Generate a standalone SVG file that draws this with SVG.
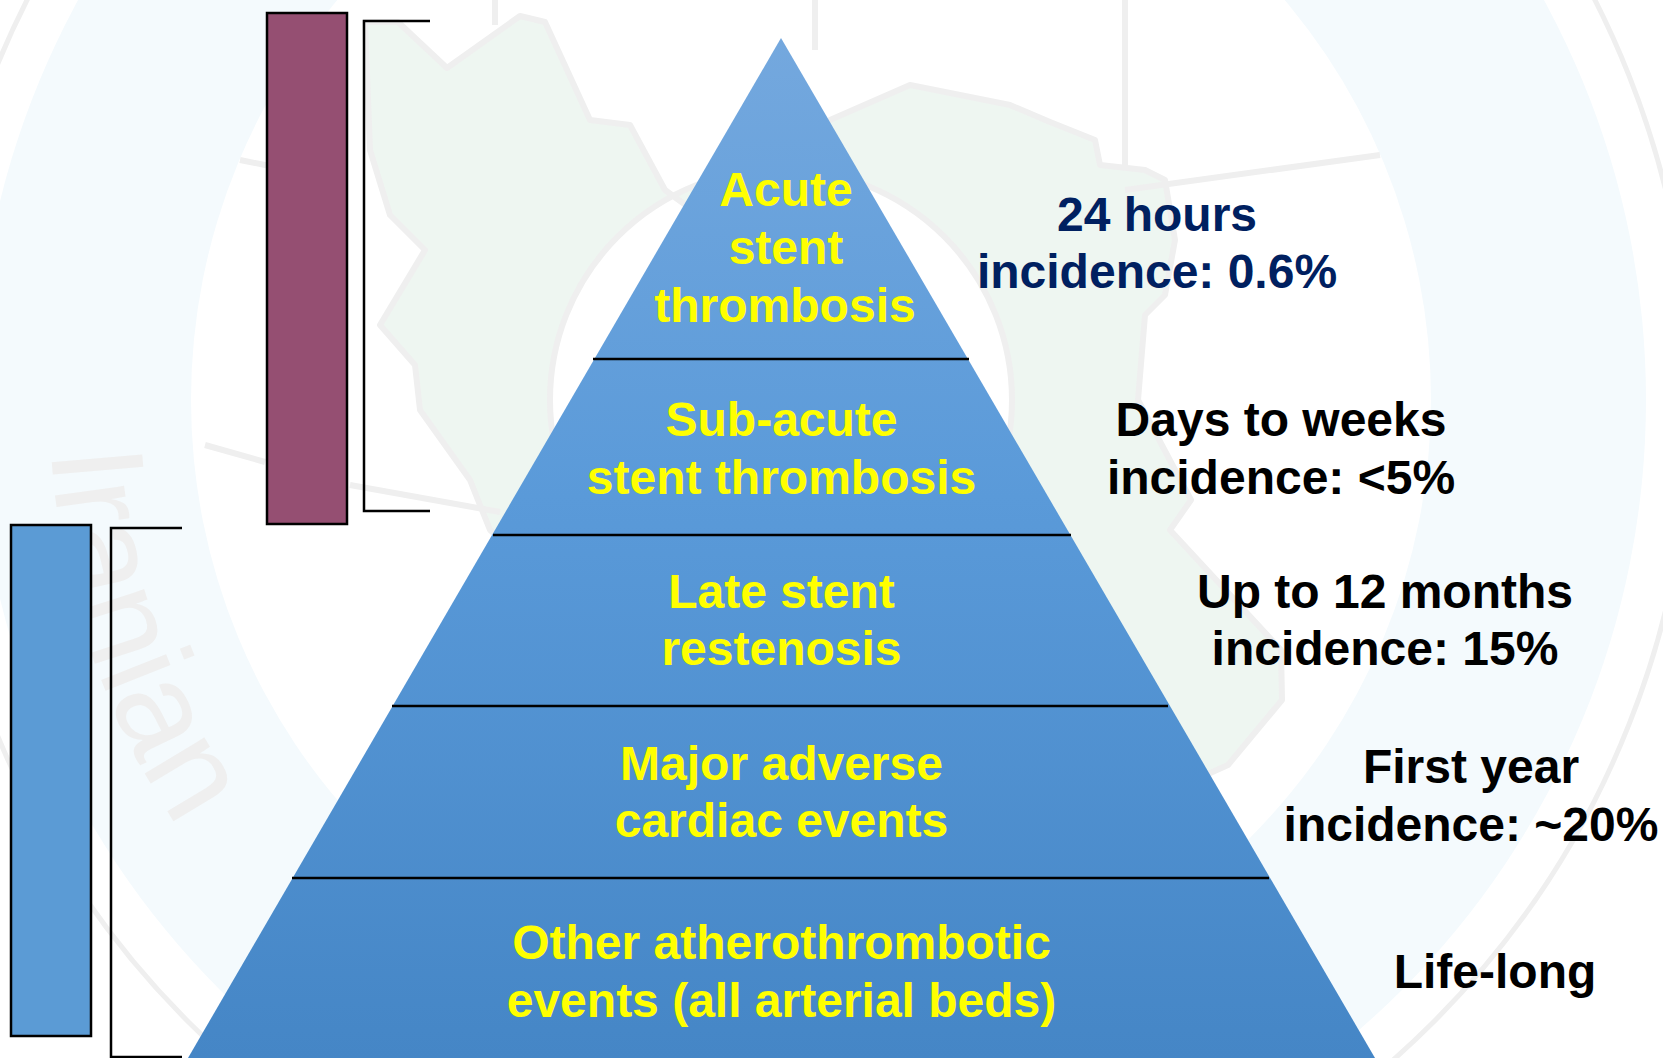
<svg xmlns="http://www.w3.org/2000/svg" width="1663" height="1058" viewBox="0 0 1663 1058">
<style>
.wm{fill:none;stroke:#efefef}
.lbl{font-family:"Liberation Sans",Arial,sans-serif;font-weight:700;font-size:48px;text-anchor:middle}
.y{fill:#ffff00}
.k{fill:#000}
.n{fill:#002060}
.bar{stroke:#000;stroke-width:2.5}
.ln{fill:none;stroke:#000;stroke-width:2.5}
</style>
<defs>
<linearGradient id="pg" gradientUnits="userSpaceOnUse" x1="0" y1="38" x2="0" y2="1058">
<stop offset="0" stop-color="#74a8de"/><stop offset="0.45" stop-color="#5a9ad9"/><stop offset="1" stop-color="#4586c6"/>
</linearGradient>
<path id="wmarc" d="M51 450A762 762 0 0 0 270 940"/>
</defs>
<g id="background">
<rect width="1663" height="1058" fill="#fff"/>
<path fill="#f4fafd" fill-rule="evenodd" d="M-24 400a835 835 0 1 0 1670 0a835 835 0 1 0 -1670 0zM191 400a620 620 0 1 0 1240 0a620 620 0 1 0 -1240 0z"/>
<circle class="wm" cx="811" cy="400" r="880" stroke-width="5"/>
<path fill="#eef6f1" stroke="#efefef" stroke-width="6" stroke-linejoin="round" fill-rule="evenodd" d="M365 22L398 22L447 68L520 16L545 22L590 120L630 125L665 190L720 230L830 120L910 85L1010 105L1050 122L1095 140L1100 165L1145 170L1165 180L1175 240L1165 295L1145 315L1138 400L1191 500L1170 530L1281 650L1282 700L1228 765L1150 800L800 800L490 530L470 480L420 410L415 365L380 325L425 250L390 215L370 150ZM550 400a231 231 0 1 0 462 0a231 231 0 1 0 -462 0z"/>
<g class="wm" stroke-width="6">
<path d="M815 0V50M1125 0V165M1125 190L1380 155M495 0V25M240 160L270 166M205 445L265 462M350 485L500 512"/>
</g>
<text font-family="'Liberation Sans',Arial,sans-serif" font-size="132" fill="#efefef"><textPath href="#wmarc">Iranian</textPath></text>
</g>
<g id="pyramid">
<polygon points="781,38 1375,1058 188,1058" fill="url(#pg)"/>
</g>
<g id="connectors">
<path class="ln" d="M593 359H969M493 535H1071M392 706H1168M292 878H1269"/>
</g>
<g id="tier-acute">
<text class="lbl y" x="786" y="206">Acute</text>
<text class="lbl y" x="786" y="264">stent</text>
<text class="lbl y" x="785" y="322">thrombosis</text>
<text class="lbl n" x="1157" y="231">24 hours</text>
<text class="lbl n" x="1157" y="288">incidence: 0.6%</text>
</g>
<g id="tier-subacute">
<text class="lbl y" x="781.500" y="436">Sub-acute</text>
<text class="lbl y" x="781.500" y="494">stent thrombosis</text>
<text class="lbl k" x="1281" y="436">Days to weeks</text>
<text class="lbl k" x="1281" y="494">incidence: &lt;5%</text>
</g>
<g id="tier-late">
<text class="lbl y" x="781.500" y="608">Late stent</text>
<text class="lbl y" x="781.500" y="665">restenosis</text>
<text class="lbl k" x="1385" y="608">Up to 12 months</text>
<text class="lbl k" x="1385" y="665">incidence: 15%</text>
</g>
<g id="tier-mace">
<text class="lbl y" x="781.500" y="780">Major adverse</text>
<text class="lbl y" x="781.500" y="837">cardiac events</text>
<text class="lbl k" x="1471" y="783">First year</text>
<text class="lbl k" x="1471" y="841">incidence: ~20%</text>
</g>
<g id="tier-other">
<text class="lbl y" x="781.500" y="959">Other atherothrombotic</text>
<text class="lbl y" x="781.500" y="1017">events (all arterial beds)</text>
<text class="lbl k" x="1495" y="988">Life-long</text>
</g>
<g id="bar-purple">
<rect class="bar" x="267" y="13" width="80" height="511" fill="#954f72"/>
<path class="ln" d="M430 21H364V511H430"/>
</g>
<g id="bar-blue">
<rect class="bar" x="11" y="525" width="80" height="511" fill="#5b9bd5"/>
<path class="ln" d="M182 528H111V1057H182"/>
</g>
</svg>
